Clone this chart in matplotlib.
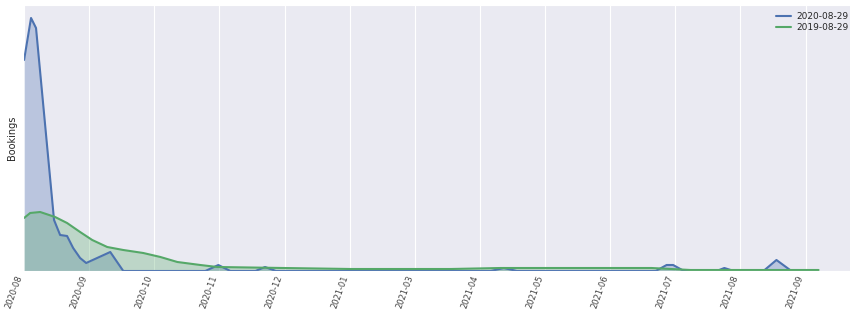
import numpy as np
import matplotlib
matplotlib.use("Agg")
import matplotlib.pyplot as plt
import seaborn as sns

# days since start of series, bookings (arbitrary units)
days_2020 = [0, 3.2, 5.5, 13.8, 16.6, 19.8, 22.6, 25.8, 28.6, 39.7, 45.7,
             83.5, 89.5, 95, 106.6, 111, 116, 215, 221, 227, 291, 296, 299,
             304, 319, 322.6, 327, 340.6, 346.6, 353.5, 358]
book_2020 = [211, 253, 243, 51, 36, 35, 23, 13, 8, 19, 0,
             0, 6, 0, 0, 4, 0, 0, 3, 0, 0, 6, 6,
             0, 0, 3, 0, 0, 11, 0, 0]

days_2019 = [0, 2.8, 7.4, 14.3, 19.8, 25.8, 31.4, 38.3, 45.7, 54.9, 62.8,
             70.6, 81.2, 89, 119.5, 150.5, 196.6, 219.7, 289, 307, 366]
book_2019 = [53, 58, 59, 54, 48, 39, 31, 24, 21, 18, 14,
             9, 6, 4, 3, 2, 2, 3, 3, 1, 1]

tick_labels = ["2020-08", "2020-09", "2020-10", "2020-11", "2020-12", "2021-01",
               "2021-03", "2021-04", "2021-05", "2021-06", "2021-07", "2021-08",
               "2021-09"]

sns.set_style("darkgrid")
plt.rcParams['font.family'] = ['DejaVu Sans']

fig = plt.figure(figsize=(8.5, 3.09), dpi=100)
ax = fig.add_axes([23 / 850, 38 / 309, 852 / 850, 266 / 309])

blue = "#4C72B0"
green = "#55A868"

ax.plot(days_2020, book_2020, color=blue, lw=1.5, label="2020-08-29")
ax.fill_between(days_2020, book_2020, color=blue, alpha=0.3, lw=0)
ax.plot(days_2019, book_2019, color=green, lw=1.5, label="2019-08-29")
ax.fill_between(days_2019, book_2019, color=green, alpha=0.3, lw=0)

ax.set_xlim(-0.5, 392)
ax.set_ylim(0, 266)
ax.set_yticks([])
ax.set_xticks(np.arange(len(tick_labels)) * 30)
ax.set_xticklabels(tick_labels, rotation=70, ha="right", fontsize=6,
                   color="#444444")
ax.tick_params(axis="x", pad=2, length=0)
ax.set_ylabel("Bookings", fontsize=7, labelpad=4)

ax.legend(loc="upper left", bbox_to_anchor=(768 / 850, 1 - 4 / 309),
          bbox_transform=fig.transFigure, frameon=False, fontsize=6.5,
          handlelength=1.6, handletextpad=0.6, labelspacing=0.25)

fig.savefig("out.png", dpi=100)
